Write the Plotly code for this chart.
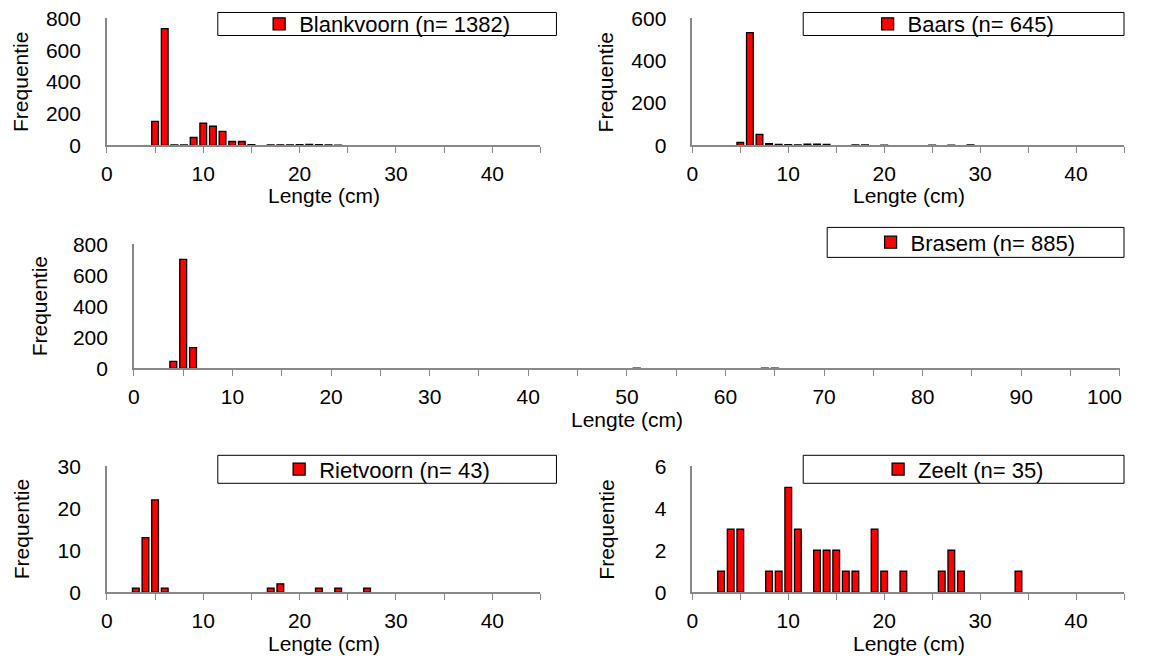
import plotly.graph_objects as go

# ---------------- data ----------------
blank_len = [5, 6, 7, 8, 9, 10, 11, 12, 13, 14, 15, 17, 18, 19, 20, 21, 22, 23, 24]
blank_n = [152, 736, 3, 3, 50, 140, 121, 89, 25, 25, 5, 3, 4, 4, 5, 6, 5, 4, 2]

baars_len = [5, 6, 7, 8, 9, 10, 11, 12, 13, 14, 17, 18, 20, 25, 27, 29]
baars_n = [14, 533, 52, 8, 5, 4, 3, 6, 6, 5, 2, 2, 1, 1, 1, 2]

brasem_len = [4, 5, 6, 51, 64, 65]
brasem_n = [45, 703, 134, 1, 1, 1]

riet_len = [3, 4, 5, 6, 17, 18, 22, 24, 27]
riet_n = [1, 13, 22, 1, 1, 2, 1, 1, 1]

zeelt_len = [3, 4, 5, 8, 9, 10, 11, 13, 14, 15, 16, 17, 19, 20, 22, 26, 27, 28, 34]
zeelt_n = [1, 3, 3, 1, 1, 5, 3, 2, 2, 2, 1, 1, 3, 1, 1, 1, 2, 1, 1]

names = ["Blankvoorn (n= 1382)", "Baars (n= 645)", "Brasem (n= 885)",
         "Rietvoorn (n= 43)", "Zeelt (n= 35)"]
x_title = "Lengte (cm)"
y_title = "Frequentie"

# figure size and page-frame compensation
W, H = 1125, 668
AX, LX = 1150 / (1125 + 30), 5.0
OY, SY = 11.5, 0.966
FONT = "Liberation Sans, Arial, sans-serif"
GRAY = "#888888"
FS = 21
LFS = 22

def fx(x):
    return min(max(x / AX - LX, 0.5), W - 1)

def fy(y):
    return min(max((y - OY) / SY, 0.5), H - 1)

def px(x):
    return fx(x) / W

def py(y):
    return 1 - fy(y) / H

# panel geometry in target pixels: (left, right, top, bottom)
panels = [
    (106, 540, 18, 145),
    (692, 1125, 18, 145),
    (133, 1120, 244, 368),
    (106, 540, 466, 592),
    (692, 1125, 466, 592),
]
xranges = [[0, 45], [0, 45], [0, 100], [0, 45], [0, 45]]
xlabels = [[0, 10, 20, 30, 40], [0, 10, 20, 30, 40],
           [0, 10, 20, 30, 40, 50, 60, 70, 80, 90], [0, 10, 20, 30, 40],
           [0, 10, 20, 30, 40]]
yranges = [[0, 800], [0, 600], [0, 800], [0, 30], [0, 6]]
ydticks = [200, 200, 200, 10, 2]
legend_boxes = [
    (217, 556, 8, 35),
    (803, 1140, 8, 35),
    (827, 1132, 227, 257),
    (217, 556, 455, 483),
    (803, 1140, 455, 483),
]
ytitle_x = [20, 606, 38, 20, 606]
xtitle_y = [195, 195, 419, 643, 643]

datasets = [(blank_len, blank_n), (baars_len, baars_n), (brasem_len, brasem_n),
            (riet_len, riet_n), (zeelt_len, zeelt_n)]

fig = go.Figure()
layout = dict(
    width=W, height=H,
    margin=dict(l=0, r=0, t=0, b=0),
    paper_bgcolor="white", plot_bgcolor="white",
    font=dict(family=FONT, size=FS, color="black"),
    showlegend=True,
    shapes=[], annotations=[],
)

for i, ((xs, ys), name) in enumerate(zip(datasets, names)):
    k = "" if i == 0 else str(i + 1)
    leg = "legend" + k
    fig.add_trace(go.Bar(
        x=xs, y=ys, name=name, width=0.7,
        marker=dict(color="#FF0000", line=dict(color="black", width=1.3)),
        xaxis="x" + k, yaxis="y" + k, legend=leg, showlegend=True,
    ))
    l, r, t, b = panels[i]
    layout["xaxis" + k] = dict(
        domain=[px(l), px(r)], anchor="y" + k, range=xranges[i],
        showline=True, linecolor=GRAY, linewidth=1.5,
        ticks="outside", ticklen=6, tickcolor=GRAY, tickwidth=1.2,
        tickmode="array", tickvals=xlabels[i],
        showgrid=False, zeroline=False,
        minor=dict(dtick=5, tick0=0, ticks="outside", ticklen=6, tickcolor=GRAY,
                   tickwidth=1.2, showgrid=False),
        tickfont=dict(size=FS), ticklabelstandoff=3,
    )
    layout["yaxis" + k] = dict(
        domain=[py(b), py(t)], anchor="x" + k, range=yranges[i],
        showline=True, linecolor=GRAY, linewidth=1.5,
        ticks="", dtick=ydticks[i], tick0=0, showgrid=False, zeroline=False,
        tickfont=dict(size=FS), ticklabelstandoff=20,
    )
    bl, br, bt, bb = legend_boxes[i]
    layout["shapes"].append(dict(
        type="rect", xref="paper", yref="paper",
        x0=px(bl), x1=px(br), y0=py(bb), y1=py(bt),
        line=dict(color="black", width=1), fillcolor="rgba(0,0,0,0)",
    ))
    layout[leg] = dict(
        x=(px(bl) + px(br)) / 2, y=(py(bt) + py(bb)) / 2,
        xanchor="center", yanchor="middle",
        bgcolor="rgba(0,0,0,0)", borderwidth=0,
        font=dict(size=LFS, family=FONT), itemwidth=30,
    )
    layout["annotations"].append(dict(
        text=y_title, textangle=-90, xref="paper", yref="paper",
        x=px(ytitle_x[i]), y=py((t + b) / 2), xanchor="center", yanchor="middle",
        showarrow=False, font=dict(size=FS),
    ))
    layout["annotations"].append(dict(
        text=x_title, xref="paper", yref="paper",
        x=px((l + r) / 2), y=py(xtitle_y[i]), xanchor="center", yanchor="middle",
        showarrow=False, font=dict(size=FS),
    ))

# last Brasem tick label, kept inside the page edge
layout["annotations"].append(dict(
    text="100", xref="x3", yref="paper", x=xranges[2][1],
    y=py(396), xanchor="right", yanchor="middle", xshift=4,
    showarrow=False, font=dict(size=FS),
))

fig.update_layout(**layout)
fig.write_html(
    "out.html",
    config={"displayModeBar": False},
    post_script="document.body.style.margin='0';document.body.style.overflow='hidden';",
)
